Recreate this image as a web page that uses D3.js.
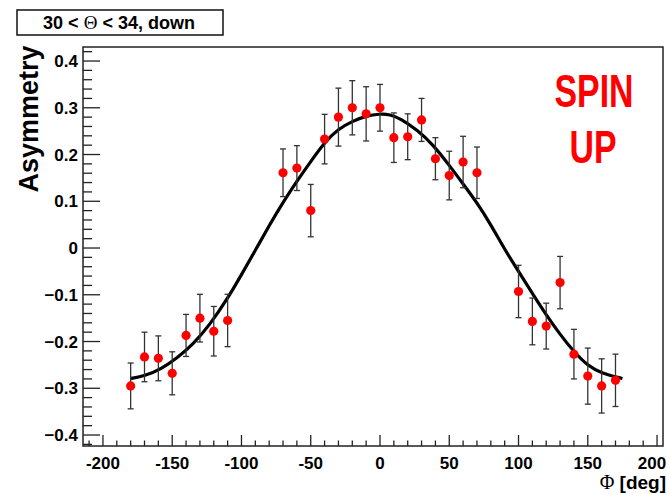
<!DOCTYPE html>
<meta charset="utf-8">
<head>
<style>
body { margin: 0; background: #fff; }
svg { display: block; }
text { font-family: "Liberation Sans", Arial, sans-serif; font-weight: bold; }
.sym { font-family: "Liberation Serif", "DejaVu Serif", serif; font-weight: normal; }
</style>
</head>
<body>
<svg width="669" height="494"></svg>
<script src="https://cdn.jsdelivr.net/npm/d3@7"></script>
<script>
// measured points
var phi  = [-180, -170, -160, -150, -140, -130, -120, -110,
            -70, -60, -50, -40, -30, -20, -10, 0, 10, 20, 30, 40, 50, 60, 70,
            100, 110, 120, 130, 140, 150, 160, 170];
var asym = [-0.295, -0.233, -0.236, -0.268, -0.187, -0.150, -0.178, -0.155,
            0.161, 0.171, 0.080, 0.233, 0.280, 0.300, 0.287, 0.300, 0.236, 0.238, 0.274, 0.191, 0.155, 0.184, 0.161,
            -0.093, -0.157, -0.167, -0.074, -0.227, -0.274, -0.295, -0.283];
var err  = [0.049, 0.053, 0.048, 0.046, 0.045, 0.051, 0.053, 0.056,
            0.051, 0.048, 0.056, 0.053, 0.062, 0.058, 0.058, 0.050, 0.053, 0.049, 0.046, 0.045, 0.052, 0.055, 0.055,
            0.056, 0.050, 0.049, 0.056, 0.053, 0.060, 0.058, 0.056];

// fit curve
var fitPhi = [-180, -170, -158, -146, -135, -123, -110, -100, -90, -80, -70, -60, -50, -40, -30, -20, -10, 0, 7, 15, 27, 38, 50, 60, 70, 80, 90, 100, 110, 120, 130, 140, 150, 160, 175];
var fitVal = [-0.279, -0.274, -0.259, -0.234, -0.206, -0.165, -0.108, -0.057, -0.005, 0.048, 0.098, 0.143, 0.185, 0.226, 0.255, 0.271, 0.283, 0.287, 0.286, 0.277, 0.252, 0.222, 0.177, 0.137, 0.097, 0.050, -0.003, -0.050, -0.097, -0.143, -0.185, -0.222, -0.252, -0.268, -0.279];

var xTicks = [-200, -150, -100, -50, 0, 50, 100, 150, 200];
var yTicks = [-0.4, -0.3, -0.2, -0.1, 0, 0.1, 0.2, 0.3, 0.4];

var svg = d3.select("svg");
var frame = {left: 83, right: 663, top: 47, bottom: 446};

var x = d3.scaleLinear().domain([-214.4, 204.3]).range([frame.left, frame.right]);
var y = d3.scaleLinear().domain([-0.4235, 0.43]).range([frame.bottom, frame.top]);

// frame
svg.append("rect")
    .attr("x", frame.left).attr("y", frame.top)
    .attr("width", frame.right - frame.left).attr("height", frame.bottom - frame.top)
    .attr("fill", "none").attr("stroke", "#222").attr("stroke-width", 1.5);

// x axis ticks
var xMinor = d3.range(-210, 201, 10);
svg.append("g").selectAll("line").data(xMinor).enter().append("line")
    .attr("x1", function(d) { return x(d); }).attr("x2", function(d) { return x(d); })
    .attr("y1", frame.bottom)
    .attr("y2", function(d) { return frame.bottom - (d % 50 === 0 ? 11 : 5.5); })
    .attr("stroke", "#222").attr("stroke-width", 1.3);
svg.append("g").selectAll("text").data(xTicks).enter().append("text")
    .attr("x", function(d) { return Math.min(x(d), 652); }).attr("y", 469)
    .attr("text-anchor", "middle").attr("font-size", 17)
    .text(function(d) { return d; });

// y axis ticks
var yMinor = d3.range(-21, 22).map(function(i) { return i * 0.02; });
svg.append("g").selectAll("line").data(yMinor).enter().append("line")
    .attr("y1", function(d) { return y(d); }).attr("y2", function(d) { return y(d); })
    .attr("x1", frame.left)
    .attr("x2", function(d, i) { return frame.left + ((i - 21) % 5 === 0 ? 17 : 9); })
    .attr("stroke", "#222").attr("stroke-width", 1.3);
svg.append("g").selectAll("text").data(yTicks).enter().append("text")
    .attr("x", 78).attr("y", function(d) { return y(d) + 6; })
    .attr("text-anchor", "end").attr("font-size", 17)
    .text(function(d) { return d3.format("")(Math.round(d * 10) / 10); });

// fit curve
var line = d3.line()
    .x(function(d, i) { return x(fitPhi[i]); })
    .y(function(d) { return y(d); })
    .curve(d3.curveBasis);
svg.append("path")
    .datum(fitVal)
    .attr("d", line)
    .attr("fill", "none").attr("stroke", "#000").attr("stroke-width", 3.2);

// error bars
var pts = phi.map(function(p, i) { return {p: p, a: asym[i], e: err[i]}; });
var eb = svg.append("g").attr("stroke", "#333").attr("stroke-width", 1.3);
eb.selectAll("line.v").data(pts).enter().append("line").attr("class", "v")
    .attr("x1", function(d) { return x(d.p); }).attr("x2", function(d) { return x(d.p); })
    .attr("y1", function(d) { return y(d.a + d.e); }).attr("y2", function(d) { return y(d.a - d.e); });
eb.selectAll("line.t").data(pts).enter().append("line").attr("class", "t")
    .attr("x1", function(d) { return x(d.p) - 3; }).attr("x2", function(d) { return x(d.p) + 3; })
    .attr("y1", function(d) { return y(d.a + d.e); }).attr("y2", function(d) { return y(d.a + d.e); });
eb.selectAll("line.b").data(pts).enter().append("line").attr("class", "b")
    .attr("x1", function(d) { return x(d.p) - 3; }).attr("x2", function(d) { return x(d.p) + 3; })
    .attr("y1", function(d) { return y(d.a - d.e); }).attr("y2", function(d) { return y(d.a - d.e); });

svg.append("g").selectAll("circle").data(pts).enter().append("circle")
    .attr("cx", function(d) { return x(d.p); }).attr("cy", function(d) { return y(d.a); })
    .attr("r", 4.6).attr("fill", "#ff0000");

// title box
svg.append("rect").attr("x", 17).attr("y", 10).attr("width", 206).attr("height", 25)
    .attr("fill", "#fff").attr("stroke", "#111").attr("stroke-width", 1.5);
var t = svg.append("text").attr("x", 119).attr("y", 29).attr("text-anchor", "middle")
    .attr("font-size", 18);
t.append("tspan").text("30 < ");
t.append("tspan").attr("class", "sym").attr("font-size", 19).text("\u0398");
t.append("tspan").text(" < 34, down");

// axis titles
svg.append("text")
    .attr("transform", "translate(38,119) rotate(-90)")
    .attr("text-anchor", "middle").attr("font-size", 27)
    .text("Asymmetry");
var xt = svg.append("text").attr("x", 666).attr("y", 489).attr("text-anchor", "end")
    .attr("font-size", 19);
xt.append("tspan").attr("class", "sym").attr("font-size", 20).text("\u03a6");
xt.append("tspan").text(" [deg]");

// annotation
svg.append("text").attr("transform", "translate(594,107) scale(0.72,1)")
    .attr("text-anchor", "middle").attr("font-size", 47).attr("fill", "#ff0000")
    .text("SPIN");
svg.append("text").attr("transform", "translate(593,163) scale(0.72,1)")
    .attr("text-anchor", "middle").attr("font-size", 47).attr("fill", "#ff0000")
    .text("UP");
</script>
</body>
</html>
